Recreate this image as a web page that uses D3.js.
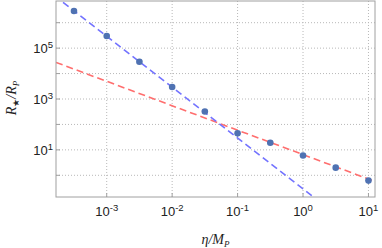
<!DOCTYPE html>
<html>
<head>
<meta charset="utf-8">
<script src="https://cdn.jsdelivr.net/npm/d3@7"></script>
<style>
  body { margin: 0; background: #fff; }
  .tick-label { font-family: "Liberation Sans", Arial, sans-serif; font-size: 13px; fill: #222; }
  .axis-title { font-family: "Liberation Serif", "Times New Roman", serif; font-style: italic; font-size: 14px; fill: #222; }
</style>
</head>
<body>
<svg id="chart" width="382" height="248"></svg>
<script>
// Data points
const eta = [3.16e-4, 1e-3, 3.16e-3, 1e-2, 3.16e-2, 0.1, 0.316, 1, 3.16, 10];
const ratio = [2.9e6, 3.0e5, 2.9e4, 2950, 324, 44.7, 19.1, 6.0, 2.0, 0.62];

// Fitted dashed lines (end points)
const blueFit = [[1.585e-4, 1.17e7], [1.41, 0.148]];
const redFit = [[1.68e-4, 2.75e4], [12.6, 0.573]];

// Tick values
const xTicks = [1e-3, 1e-2, 1e-1, 1, 10];
const xTickExp = ["-3", "-2", "-1", "0", "1"];
const yGrid = [1, 10, 100, 1e3, 1e4, 1e5, 1e6];
const yTicks = [10, 1e3, 1e5];
const yTickExp = ["1", "3", "5"];

const margin = {top: 1, right: 7, bottom: 51, left: 56};
const width = 382 - margin.left - margin.right;
const height = 248 - margin.top - margin.bottom;

const svg = d3.select("#chart");
const g = svg.append("g").attr("transform", `translate(${margin.left},${margin.top})`);

const x = d3.scaleLog().domain([Math.pow(10, -3.775), Math.pow(10, 1.10)]).range([0, width]);
const y = d3.scaleLog().domain([Math.pow(10, -0.853), Math.pow(10, 6.853)]).range([height, 0]);

svg.append("defs").append("clipPath").attr("id", "clip")
    .append("rect").attr("width", width).attr("height", height);

// Grid lines
g.selectAll(".vgrid").data(xTicks).enter().append("line")
    .attr("x1", d => x(d)).attr("x2", d => x(d))
    .attr("y1", 0).attr("y2", height)
    .attr("stroke", "#b8b8b8").attr("stroke-dasharray", "1,2");
g.selectAll(".hgrid").data(yGrid).enter().append("line")
    .attr("x1", 0).attr("x2", width)
    .attr("y1", d => y(d)).attr("y2", d => y(d))
    .attr("stroke", "#b8b8b8").attr("stroke-dasharray", "1,2");

// Fit lines
const line = d3.line().x(d => x(d[0])).y(d => y(d[1]));
const plot = g.append("g").attr("clip-path", "url(#clip)");
plot.append("path").datum(redFit).attr("d", line)
    .attr("fill", "none").attr("stroke", "#ff6e6e").attr("stroke-width", 1.6)
    .attr("stroke-dasharray", "7,4");
plot.append("path").datum(blueFit).attr("d", line)
    .attr("fill", "none").attr("stroke", "#7373ff").attr("stroke-width", 1.6)
    .attr("stroke-dasharray", "7,4");

// Points
plot.selectAll("circle").data(eta).enter().append("circle")
    .attr("cx", d => x(d))
    .attr("cy", (d, i) => y(ratio[i]))
    .attr("r", 3.3)
    .attr("fill", "#4f72b2");

// Frame
g.append("rect").attr("width", width).attr("height", height)
    .attr("fill", "none").attr("stroke", "#a0a0a0").attr("stroke-width", 1);

// Tick marks
g.selectAll(".xt").data(xTicks).enter().append("line")
    .attr("x1", d => x(d)).attr("x2", d => x(d))
    .attr("y1", height).attr("y2", height - 4)
    .attr("stroke", "#a0a0a0");
g.selectAll(".yt").data(yGrid).enter().append("line")
    .attr("x1", 0).attr("x2", 4)
    .attr("y1", d => y(d)).attr("y2", d => y(d))
    .attr("stroke", "#a0a0a0");

// X tick labels
const xl = g.selectAll(".xl").data(xTicks).enter().append("text")
    .attr("class", "tick-label")
    .attr("x", d => x(d))
    .attr("y", height + 19)
    .attr("text-anchor", "middle");
xl.append("tspan").text("10");
xl.append("tspan").attr("dy", -5).attr("font-size", "9.5px").text((d, i) => xTickExp[i]);

// Y tick labels
const yl = g.selectAll(".yl").data(yTicks).enter().append("text")
    .attr("class", "tick-label")
    .attr("x", -3)
    .attr("y", d => y(d) + 5)
    .attr("text-anchor", "end");
yl.append("tspan").text("10");
yl.append("tspan").attr("dy", -5).attr("font-size", "9.5px").text((d, i) => yTickExp[i]);

// Axis titles
const xt = svg.append("text").attr("class", "axis-title")
    .attr("x", margin.left + width / 2).attr("y", 244)
    .attr("text-anchor", "middle");
xt.append("tspan").text("η/M");
xt.append("tspan").attr("dy", 3).attr("font-size", "9px").text("P");

const yt = svg.append("text").attr("class", "axis-title")
    .attr("transform", `translate(16,${margin.top + 97}) rotate(-90)`)
    .attr("text-anchor", "middle");
yt.append("tspan").text("R");
yt.append("tspan").attr("dy", 3).attr("font-size", "9px").attr("font-style", "normal").text("★");
yt.append("tspan").attr("dy", -3).text("/R");
yt.append("tspan").attr("dy", 3).attr("font-size", "9px").text("P");
</script>
</body>
</html>
